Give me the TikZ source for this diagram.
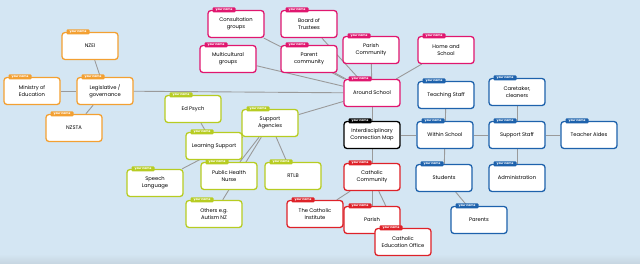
\documentclass[tikz,border=0pt]{standalone}
\usepackage{fontspec}
\newfontfamily\mapfont{Poppins}
\usepackage{xcolor}

\definecolor{mapbg}{HTML}{D4E6F3}
\definecolor{linkgray}{HTML}{9A9A9A}
\definecolor{govorange}{HTML}{F3A032}
\definecolor{aroundpink}{HTML}{E0176F}
\definecolor{agencylime}{HTML}{B7CC22}
\definecolor{withinblue}{HTML}{1E62AC}
\definecolor{catholicred}{HTML}{DE2229}

\pgfdeclarelayer{backdrop}
\pgfdeclarelayer{links}
\pgfsetlayers{backdrop,links,main}

\begin{document}
\begin{tikzpicture}[
  x=1pt, y=-1pt,
  every node/.style={font=\mapfont\fontsize{5.2}{7}\selectfont},
  idea/.style={
    rectangle, draw, fill=white, line width=1.3pt, rounded corners=3pt,
    minimum width=56pt, minimum height=27pt,
    align=center, inner sep=1pt
  },
  tab/.style={
    rectangle, rounded corners=1pt, anchor=west,
    minimum width=23pt, minimum height=5pt, inner sep=0pt,
    text=white, font=\mapfont\fontsize{3}{3}\selectfont\bfseries
  },
  link/.style={draw=linkgray, line width=0.9pt}
]

% ---- Background ----
\begin{pgfonlayer}{backdrop}
\fill[mapbg] (0,0) rectangle (640,263);
\shade[top color=mapbg, bottom color=mapbg!85!gray] (0,254) rectangle (640,263);
\end{pgfonlayer}
\useasboundingbox (0,0) rectangle (640,263);

% ---- Legislative / governance (orange) ----
\node[idea, draw=govorange] (nzei) at (90,46) {NZEI};
\node[idea, draw=govorange] (ministry) at (32,91) {Ministry of\\Education};
\node[idea, draw=govorange] (legis) at (105,91) {Legislative /\\governance};
\node[idea, draw=govorange] (nzsta) at (74,128) {NZSTA};

% ---- Support agencies (lime) ----
\node[idea, draw=agencylime] (edpsych) at (193,109) {Ed Psych};
\node[idea, draw=agencylime] (agencies) at (270,123) {Support\\Agencies};
\node[idea, draw=agencylime] (learning) at (214,146) {Learning Support};
\node[idea, draw=agencylime] (speech) at (155,183) {Speech\\Language};
\node[idea, draw=agencylime] (nurse) at (229,176) {Public Health\\Nurse};
\node[idea, draw=agencylime] (rtlb) at (293,176) {RTLB};
\node[idea, draw=agencylime] (others) at (214,214) {Others e.g.\\Autism NZ};

% ---- Around school (pink) ----
\node[idea, draw=aroundpink] (consult) at (236,24) {Consultation\\groups};
\node[idea, draw=aroundpink] (board) at (309,24) {Board of\\Trustees};
\node[idea, draw=aroundpink] (multi) at (228,59) {Multicultural\\groups};
\node[idea, draw=aroundpink] (parent) at (309,59) {Parent\\community};
\node[idea, draw=aroundpink] (parishcom) at (371,50) {Parish\\Community};
\node[idea, draw=aroundpink] (homeschool) at (446,50) {Home and\\School};
\node[idea, draw=aroundpink] (around) at (372,93) {Around School};

% ---- Centre ----
\node[idea, draw=black] (icm) at (372,135) {Interdisciplinary\\Connection Map};

% ---- Within school (blue) ----
\node[idea, draw=withinblue] (teaching) at (446,95) {Teaching Staff};
\node[idea, draw=withinblue] (within) at (445,135) {Within School};
\node[idea, draw=withinblue] (caretaker) at (517,92) {Caretaker,\\cleaners};
\node[idea, draw=withinblue] (support) at (517,135) {Support Staff};
\node[idea, draw=withinblue] (aides) at (589,135) {Teacher Aides};
\node[idea, draw=withinblue] (students) at (444,178) {Students};
\node[idea, draw=withinblue] (admin) at (517,178) {Administration};
\node[idea, draw=withinblue] (parents) at (479,220) {Parents};

% ---- Catholic community (red) ----
\node[idea, draw=catholicred] (catholic) at (372,177) {Catholic\\Community};
\node[idea, draw=catholicred] (institute) at (315,214) {The Catholic\\Institute};
\node[idea, draw=catholicred] (parish) at (372,220) {Parish};
\node[idea, draw=catholicred] (ceo) at (403,242) {Catholic\\Education Office};

% ---- "your name" tabs ----
\foreach \n/\c in {nzei/govorange, ministry/govorange, legis/govorange,
    nzsta/govorange, edpsych/agencylime, agencies/agencylime,
    learning/agencylime, speech/agencylime, nurse/agencylime,
    rtlb/agencylime, others/agencylime, consult/aroundpink,
    board/aroundpink, multi/aroundpink, parent/aroundpink,
    parishcom/aroundpink, homeschool/aroundpink, around/aroundpink,
    icm/black, teaching/withinblue, within/withinblue,
    caretaker/withinblue, support/withinblue, aides/withinblue,
    students/withinblue, admin/withinblue, parents/withinblue,
    catholic/catholicred, institute/catholicred, parish/catholicred,
    ceo/catholicred}
  \node[tab, fill=\c] (\n-tab) at ([xshift=5pt]\n.north west) {your name};

% ---- Links (behind the boxes) ----
\begin{pgfonlayer}{links}
\draw[link] (legis) -- (nzei);
\draw[link] (legis) -- (ministry);
\draw[link] (legis) -- (nzsta);
\draw[link] (legis) -- (around);

\draw[link] (agencies) -- (around);
\draw[link] (agencies) -- (learning);
\draw[link] (agencies) -- (speech);
\draw[link] (agencies) -- (nurse);
\draw[link] (agencies) -- (others);
\draw[link] (agencies) -- (rtlb);
\draw[link] (edpsych) -- (learning);

\draw[link] (consult) -- (around);
\draw[link] (board) -- (around);
\draw[link] (multi) -- (around);
\draw[link] (parent) -- (around);
\draw[link] (parishcom) -- (around);
\draw[link] (homeschool) -- (around);

\draw[link] (around) -- (icm);
\draw[link] (icm) -- (within);
\draw[link] (icm) -- (catholic);

\draw[link] (within) -- (teaching);
\draw[link] (within) -- (support);
\draw[link] (within) -- (students);
\draw[link] (support) -- (caretaker);
\draw[link] (support) -- (aides);
\draw[link] (support) -- (admin);
\draw[link] (students) -- (parents);

\draw[link] (catholic) -- (institute);
\draw[link] (catholic) -- (parish);
\draw[link] (catholic) -- (ceo);
\end{pgfonlayer}

\end{tikzpicture}
\end{document}
